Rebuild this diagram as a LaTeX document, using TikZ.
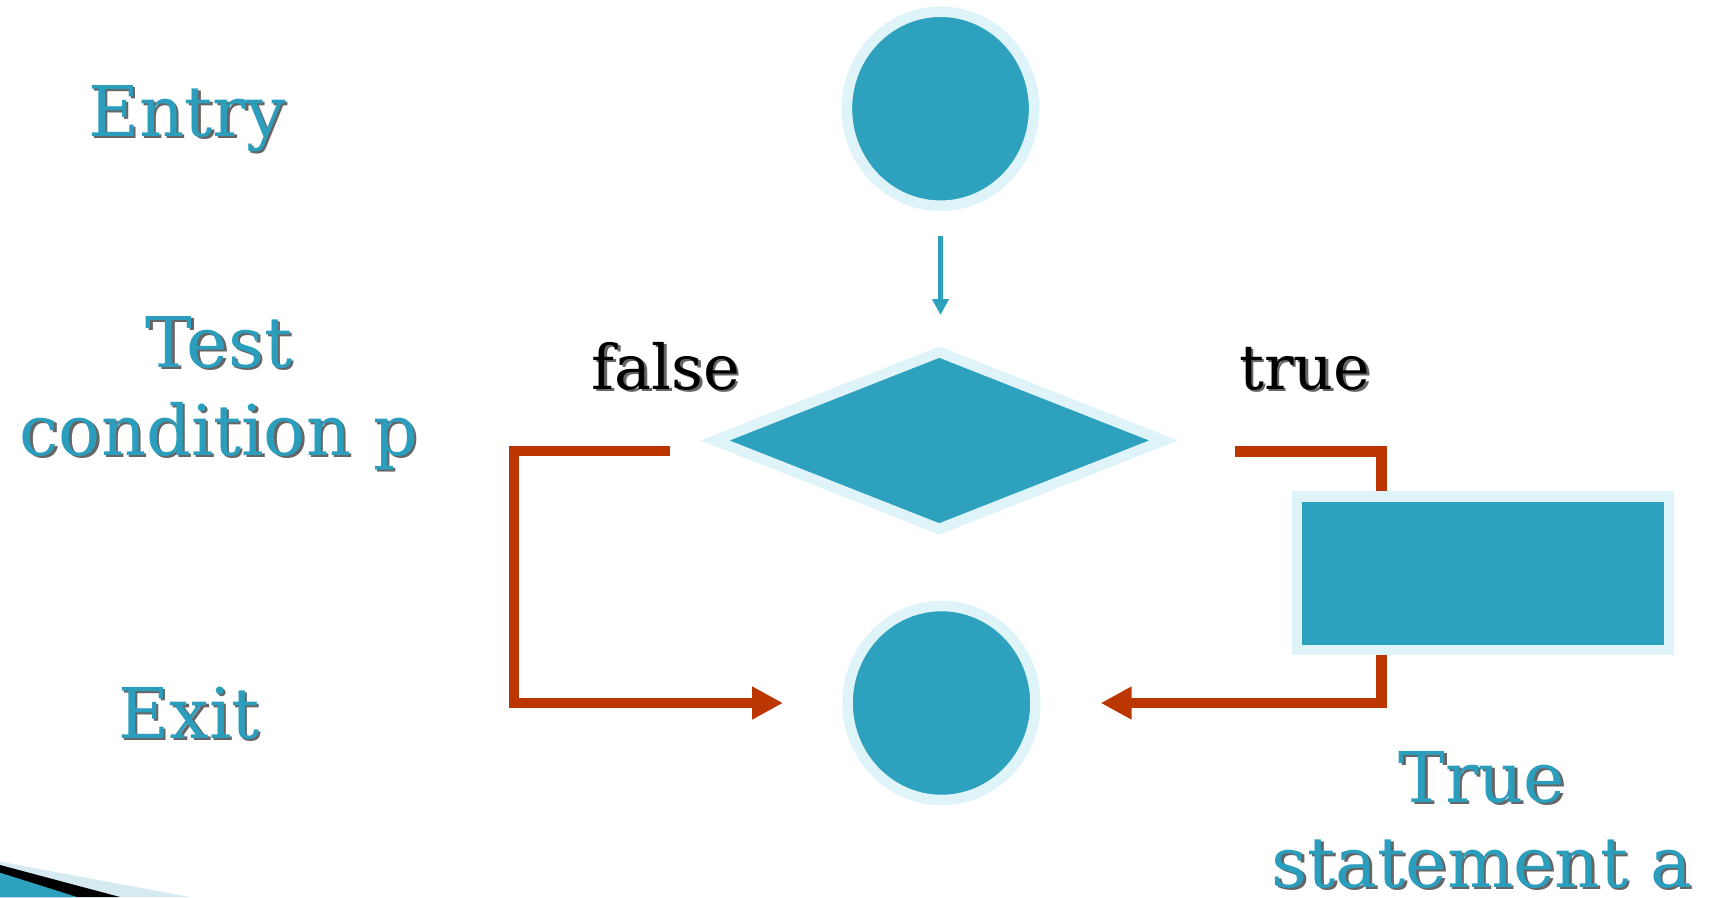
\documentclass[tikz,border=0pt]{standalone}
\usepackage{fontspec}
\setmainfont{DejaVu Serif}
\usetikzlibrary{shapes.geometric,arrows.meta}
\definecolor{tealfill}{RGB}{45,161,190}
\definecolor{lightrim}{RGB}{222,244,249}
\definecolor{flowred}{RGB}{187,54,0}
\definecolor{textteal}{RGB}{42,158,188}
\definecolor{swooshlight}{RGB}{214,234,241}
\newcommand\shadowed[2]{\leavevmode\rlap{\hspace*{2.5pt}\raisebox{-2.5pt}{\color{black!60}#2}}{\color{#1}#2}}
\begin{document}
\begin{tikzpicture}[x=1pt,y=-1pt,
  shapebox/.style={fill=tealfill,draw=lightrim,line width=10.5pt,inner sep=0pt,outer sep=0pt},
  flow/.style={draw=flowred,line width=10.3pt},
  flowtip/.style={-{Triangle[length=31pt,width=31pt]}},
  sidetext/.style={font=\fontsize{70}{88}\selectfont,inner sep=0pt,align=center},
  sidetexttight/.style={font=\fontsize{70}{85}\selectfont,inner sep=0pt,align=center},
  condtext/.style={font=\fontsize{62}{70}\selectfont,inner sep=0pt},
]
\fill[white] (0,0) rectangle (1710,897);
\useasboundingbox (0,0) rectangle (1710,897);
% bottom-left swoosh
\fill[swooshlight] (0,861.7) -- (190,897) -- (0,897) -- cycle;
\fill[black] (0,865) -- (120,897) -- (0,897) -- cycle;
\fill[tealfill] (0,872.7) -- (77,897) -- (0,897) -- cycle;
% shapes
\node[shapebox,ellipse,minimum width=187.2pt,minimum height=194pt] (en) at (940.5,108.7) {};
\node[shapebox,diamond,minimum width=448.4pt,minimum height=176.8pt] (dia) at (939.3,440.5) {};
\node[shapebox,rectangle,minimum width=372pt,minimum height=153.5pt] (st) at (1483,573.25) {};
\node[shapebox,ellipse,minimum width=187.8pt,minimum height=194pt] (ex) at (941.5,703) {};
% connectors
\draw[draw=tealfill,line width=5.3pt,-{Triangle[length=16pt,width=16pt]},shorten <=30.3pt,shorten >=37.1pt] (en.south) -- (en.south |- dia.north);
\coordinate (fc) at (513.7,703);
\draw[flow,flowtip,shorten >=64.6pt] ([xshift=-45.1pt,yshift=-10.5pt]dia.west) -| (fc) -- (ex.west);
\draw[flow,shorten >=5.25pt] ([xshift=71.5pt,yshift=-11pt]dia.east) -| ([xshift=-101.5pt]st.north);
\draw[flow,flowtip,shorten <=5.25pt,shorten >=65.3pt] ([xshift=-101.5pt]st.south) |- (ex.east);
% texts
\node[sidetext,anchor=base] (entry) at (187,136) {\shadowed{textteal}{Entry}};
\node[sidetext,anchor=north] (test) at (219,316) {\shadowed{textteal}{Test}\\\shadowed{textteal}{condition p}};
\node[sidetext,anchor=base] (exit) at (189,738) {\shadowed{textteal}{Exit}};
\node[condtext,anchor=base] (fl) at (666,389) {\shadowed{black}{false}};
\node[condtext,anchor=base] (tr) at (1305,389) {\shadowed{black}{true}};
\node[sidetexttight,anchor=north] (ts) at (1482,751) {\shadowed{textteal}{True}\\\shadowed{textteal}{statement a}};
\end{tikzpicture}
\end{document}
